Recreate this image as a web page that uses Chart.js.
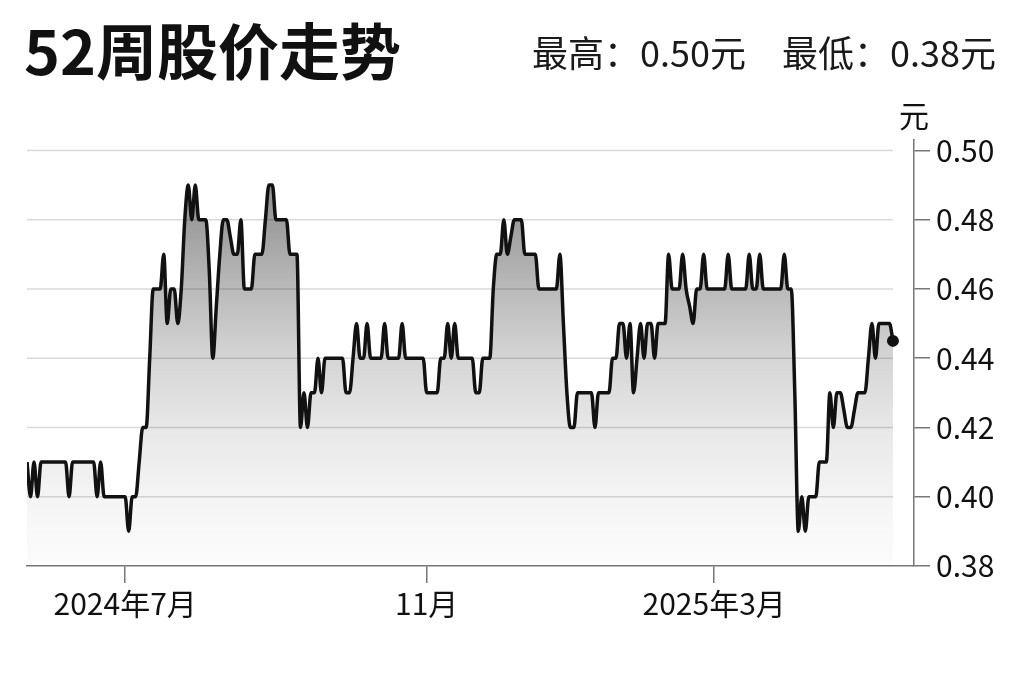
<!DOCTYPE html>
<html>
<head>
<meta charset="utf-8">
<script src="https://cdn.jsdelivr.net/npm/chart.js@4.4.1/dist/chart.umd.min.js"></script>
<style>
  body { margin: 0; background: #fff; }
  #wrap { position: relative; width: 1024px; height: 682px; overflow: hidden; }
  #chart { position: absolute; left: 0; top: 0; }
  .head { position: absolute; font-family: "Noto Sans CJK SC", sans-serif; color: #111; white-space: nowrap; z-index: 2; }
  #title { left: 24px; top: 18px; font-size: 61px; line-height: 61px; font-weight: 700; }
  #range { right: 28px; top: 33px; font-size: 36px; line-height: 36px; color: #1a1a1a; }
</style>
</head>
<body>
<div id="wrap">
  <div class="head" id="title">52周股价走势</div>
  <div class="head" id="range">最高：0.50元　最低：0.38元</div>
  <canvas id="chart" width="1024" height="682"></canvas>
</div>
<script>
// daily closing price, one value per trading day
const prices = [
    0.41, 0.40, 0.41, 0.40, 0.41, 0.41, 0.41, 0.41, 0.41, 0.41,
    0.41, 0.41, 0.40, 0.41, 0.41, 0.41, 0.41, 0.41, 0.41, 0.41,
    0.40, 0.41, 0.40, 0.40, 0.40, 0.40, 0.40, 0.40, 0.40, 0.39,
    0.40, 0.40, 0.41, 0.42, 0.42, 0.44, 0.46, 0.46, 0.46, 0.47,
    0.45, 0.46, 0.46, 0.45, 0.46, 0.48, 0.49, 0.48, 0.49, 0.48,
    0.48, 0.48, 0.465, 0.44, 0.455, 0.47, 0.48, 0.48, 0.475, 0.47,
    0.47, 0.48, 0.46, 0.46, 0.46, 0.47, 0.47, 0.47, 0.48, 0.49,
    0.49, 0.48, 0.48, 0.48, 0.48, 0.47, 0.47, 0.47, 0.42, 0.43,
    0.42, 0.43, 0.43, 0.44, 0.43, 0.44, 0.44, 0.44, 0.44, 0.44,
    0.44, 0.43, 0.43, 0.44, 0.45, 0.44, 0.44, 0.45, 0.44, 0.44,
    0.44, 0.44, 0.45, 0.44, 0.44, 0.44, 0.44, 0.45, 0.44, 0.44,
    0.44, 0.44, 0.44, 0.44, 0.43, 0.43, 0.43, 0.43, 0.44, 0.44,
    0.45, 0.44, 0.45, 0.44, 0.44, 0.44, 0.44, 0.44, 0.43, 0.43,
    0.44, 0.44, 0.44, 0.46, 0.47, 0.47, 0.48, 0.47, 0.475, 0.48,
    0.48, 0.48, 0.47, 0.47, 0.47, 0.47, 0.46, 0.46, 0.46, 0.46,
    0.46, 0.46, 0.47, 0.45, 0.43, 0.42, 0.42, 0.43, 0.43, 0.43,
    0.43, 0.43, 0.42, 0.43, 0.43, 0.43, 0.43, 0.44, 0.44, 0.45,
    0.45, 0.44, 0.45, 0.43, 0.44, 0.45, 0.44, 0.45, 0.45, 0.44,
    0.45, 0.45, 0.45, 0.47, 0.46, 0.46, 0.46, 0.47, 0.46, 0.455,
    0.45, 0.46, 0.46, 0.47, 0.46, 0.46, 0.46, 0.46, 0.46, 0.46,
    0.47, 0.46, 0.46, 0.46, 0.46, 0.46, 0.47, 0.46, 0.46, 0.47,
    0.46, 0.46, 0.46, 0.46, 0.46, 0.46, 0.47, 0.46, 0.46, 0.43,
    0.39, 0.40, 0.39, 0.40, 0.40, 0.40, 0.41, 0.41, 0.41, 0.43,
    0.42, 0.43, 0.43, 0.425, 0.42, 0.42, 0.425, 0.43, 0.43, 0.43,
    0.44, 0.45, 0.44, 0.45, 0.45, 0.45, 0.45, 0.445
];

// month labels sit on these trading-day indexes
const xTickPos = [28, 114, 196];
const xTickLabels = ['2024年7月', '11月', '2025年3月'];
const yTicks = [0.38, 0.40, 0.42, 0.44, 0.46, 0.48, 0.50];

const fontFamily = '"Noto Sans CJK SC", sans-serif';
const last = prices.length - 1;

// horizontal grid lines stop at the last data point, not at the axis
const gridLines = {
    id: 'gridLines',
    beforeDatasetsDraw(chart) {
        const { ctx, chartArea, scales } = chart;
        const right = scales.x.getPixelForValue(last);
        ctx.save();
        ctx.strokeStyle = '#d9d9d9';
        ctx.lineWidth = 1.5;
        yTicks.slice(1).forEach(v => {
            const py = scales.y.getPixelForValue(v);
            ctx.beginPath();
            ctx.moveTo(chartArea.left, py);
            ctx.lineTo(right, py);
            ctx.stroke();
        });
        ctx.restore();
    }
};

// unit above the price axis
const unitLabel = {
    id: 'unitLabel',
    afterDraw(chart) {
        const { ctx, chartArea } = chart;
        ctx.save();
        ctx.font = '30px ' + fontFamily;
        ctx.fillStyle = '#111';
        ctx.textAlign = 'center';
        ctx.textBaseline = 'middle';
        ctx.fillText('元', chartArea.right, chartArea.top - 24);
        ctx.restore();
    }
};

function fillGradient(context) {
    const area = context.chart.chartArea;
    if (!area) return 'rgba(0,0,0,0.2)';
    const g = context.chart.ctx.createLinearGradient(0, area.top, 0, area.bottom);
    g.addColorStop(0, 'rgba(0,0,0,0.50)');
    g.addColorStop(0.2, 'rgba(0,0,0,0.38)');
    g.addColorStop(0.35, 'rgba(0,0,0,0.27)');
    g.addColorStop(0.52, 'rgba(0,0,0,0.16)');
    g.addColorStop(0.68, 'rgba(0,0,0,0.09)');
    g.addColorStop(0.85, 'rgba(0,0,0,0.04)');
    g.addColorStop(1, 'rgba(0,0,0,0.01)');
    return g;
}

const chart = new Chart(document.getElementById('chart'), {
    type: 'line',
    data: {
        datasets: [{
            data: prices.map((p, i) => ({ x: i, y: p })),
            borderColor: '#111',
            borderWidth: 3.5,
            fill: 'start',
            backgroundColor: fillGradient,
            cubicInterpolationMode: 'monotone',
            pointRadius: c => c.dataIndex === last ? 6 : 0,
            pointBackgroundColor: '#111',
            pointBorderWidth: 0,
            pointHoverRadius: 0
        }]
    },
    options: {
        responsive: false,
        animation: false,
        layout: { padding: { left: 27, top: 140, right: 0, bottom: 0 } },
        plugins: {
            legend: { display: false },
            tooltip: { enabled: false }
        },
        scales: {
            x: {
                type: 'linear',
                min: 0,
                max: 253,
                afterBuildTicks: s => { s.ticks = xTickPos.map(v => ({ value: v })); },
                afterFit: s => { s.height = 116; },
                grid: { drawOnChartArea: false, tickLength: 17, color: '#777', lineWidth: 1.5 },
                border: { color: '#777', width: 1.5 },
                ticks: {
                    autoSkip: false,
                    maxRotation: 0,
                    padding: 3,
                    color: '#111',
                    font: { family: fontFamily, size: 30 },
                    callback: (v, i) => xTickLabels[i]
                }
            },
            y: {
                position: 'right',
                min: 0.38,
                max: 0.503,
                afterBuildTicks: s => { s.ticks = yTicks.map(v => ({ value: v })); },
                afterFit: s => { s.width = 110; },
                grid: { drawOnChartArea: false, tickLength: 16, color: '#777', lineWidth: 1.5 },
                border: { color: '#777', width: 1.5 },
                ticks: {
                    padding: 6,
                    color: '#111',
                    font: { family: fontFamily, size: 30 },
                    callback: v => v.toFixed(2)
                }
            }
        }
    },
    plugins: [gridLines, unitLabel]
});
</script>
</body>
</html>
